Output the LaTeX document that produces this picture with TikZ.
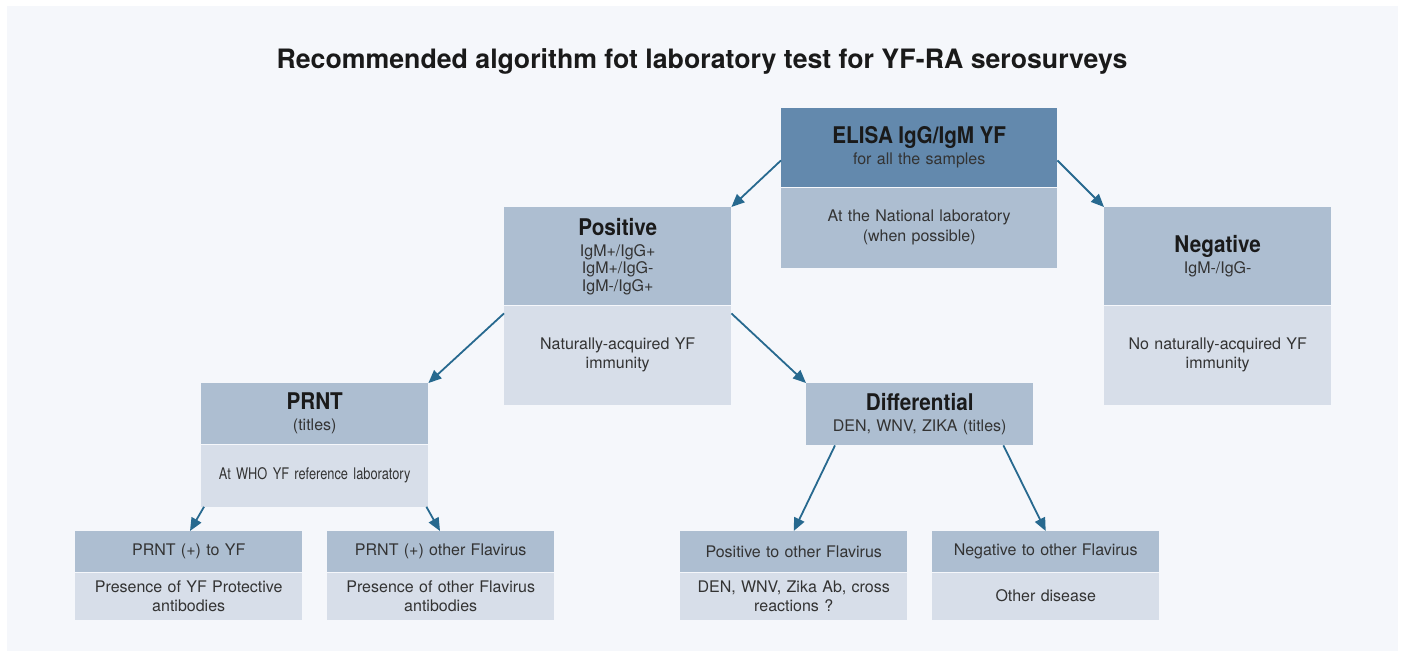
\documentclass[tikz,border=0pt]{standalone}
\usepackage{fontspec}
\setmainfont{TeX Gyre Heros}
\newfontfamily\narrowfont[FakeStretch=0.8]{TeX Gyre Heros}
\newfontfamily\boxtitlefont[FakeStretch=0.9]{TeX Gyre Heros}
\usetikzlibrary{positioning,arrows.meta}

\definecolor{panel}{HTML}{F5F7FB}
\definecolor{topblue}{HTML}{6389AD}
\definecolor{midblue}{HTML}{ADBED1}
\definecolor{paleblue}{HTML}{D7DEE9}
\definecolor{arrowblue}{HTML}{27698F}
\definecolor{boxtext}{HTML}{333333}
\definecolor{titletext}{HTML}{1A1A1A}

\tikzset{
  boxhead/.style={fill=midblue, text=boxtext, align=center, inner sep=0pt,
    text width=227pt, anchor=north west, font=\fontsize{16}{17.5}\selectfont},
  boxbody/.style={fill=paleblue, text=boxtext, align=center, inner sep=0pt,
    text width=227pt, font=\fontsize{16}{19.5}\selectfont},
  flow/.style={arrowblue, line width=1.8pt, -{Triangle[length=13pt,width=11pt]}}
}
\newcommand{\boxtitle}[1]{{\boxtitlefont\bfseries\color{titletext}\fontsize{23}{23}\selectfont #1}\\[3.5pt]}

\begin{document}
\begin{tikzpicture}[x=1pt,y=-1pt]
\fill[white] (0,0) rectangle (1402,657);
\useasboundingbox (0,0) rectangle (1402,657);
\fill[panel] (7,6) rectangle (1398,651);

\node[font=\bfseries\fontsize{26.7}{27}\selectfont, text=titletext] (title) at (702,61)
  {Recommended algorithm fot laboratory test for YF-RA serosurveys};

% first level
\node[boxhead, fill=topblue, text width=276pt, minimum height=79pt] (elisaHead) at (781,108)
  {\boxtitle{ELISA IgG/IgM YF}for all the samples};
\node[boxbody, fill=midblue, text width=276pt, minimum height=80pt, below=0pt of elisaHead] (elisaBody)
  {At the National laboratory\\(when possible)};

% second level
\node[boxhead, minimum height=98pt] (posHead) at (504,207)
  {\boxtitle{Positive}IgM+/IgG+\\IgM+/IgG-\\IgM-/IgG+};
\node[boxbody, minimum height=99pt, below=0pt of posHead] (posBody)
  {Naturally-acquired YF\\immunity};

\node[boxhead, minimum height=98pt] (negHead) at (1104,207)
  {\boxtitle{Negative}IgM-/IgG-};
\node[boxbody, minimum height=99pt, below=0pt of negHead] (negBody)
  {No naturally-acquired YF\\immunity};

% third level
\node[boxhead, minimum height=61pt] (prntHead) at (201,383)
  {\boxtitle{PRNT}(titles)};
\node[boxbody, minimum height=62pt, below=0pt of prntHead, font=\narrowfont\fontsize{16}{19.5}\selectfont] (prntBody)
  {At WHO YF reference laboratory};

\node[boxhead, minimum height=62pt] (diffHead) at (806,383)
  {\boxtitle{Differential}DEN, WNV, ZIKA (titles)};

% results
\node[boxhead, minimum height=41pt] (yfHead) at (75,531) {PRNT (+) to YF};
\node[boxbody, minimum height=47pt, below=0pt of yfHead] (yfBody)
  {Presence of YF Protective\\antibodies};

\node[boxhead, minimum height=41pt] (othHead) at (327,531) {PRNT (+) other Flavirus};
\node[boxbody, minimum height=47pt, below=0pt of othHead] (othBody)
  {Presence of other Flavirus\\antibodies};

\node[boxhead, minimum height=41pt] (posflHead) at (680,531) {Positive to other Flavirus};
\node[boxbody, minimum height=47pt, below=0pt of posflHead] (posflBody)
  {DEN, WNV, Zika Ab, cross\\reactions ?};

\node[boxhead, minimum height=41pt] (negflHead) at (932,531) {Negative to other Flavirus};
\node[boxbody, minimum height=47pt, below=0pt of negflHead] (negflBody)
  {Other disease};

% arrows
\draw[flow] ([yshift=27pt]elisaBody.north west) -- (posHead.north east);
\draw[flow] ([yshift=27pt]elisaBody.north east) -- (negHead.north west);
\draw[flow] ([yshift=-8pt]posBody.north west) -- (prntHead.north east);
\draw[flow] ([yshift=-8pt]posBody.north east) -- (diffHead.north west);
\draw[flow] ([xshift=3pt]prntBody.south west) -- ([xshift=115pt]yfHead.north west);
\draw[flow] ([xshift=-2pt]prntBody.south east) -- ([xshift=113pt]othHead.north west);
\draw[flow] ([xshift=29pt]diffHead.south west) -- (posflHead.north);
\draw[flow] ([xshift=-30pt]diffHead.south east) -- (negflHead.north);
\end{tikzpicture}
\end{document}
